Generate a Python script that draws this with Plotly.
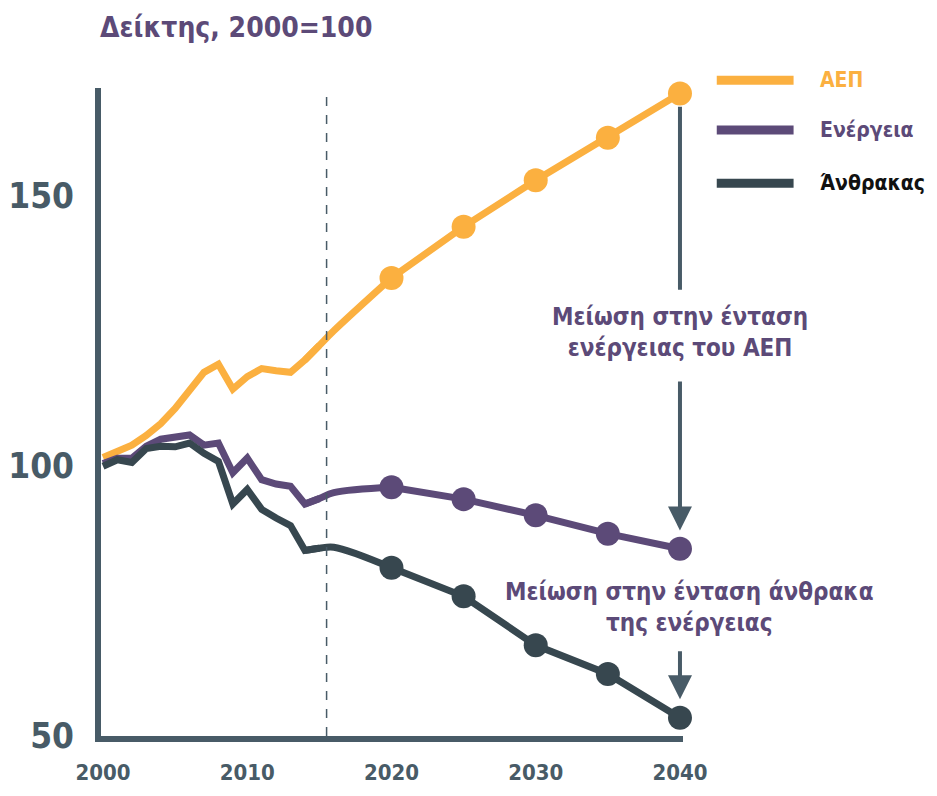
import plotly.graph_objects as go

# historical index values, 2000=100
hist_years = list(range(2000, 2017))
gdp_hist = [101.5, 102.6, 103.8, 105.6, 107.8, 110.6, 114.2, 117.3, 118.8, 114.2, 116.5,
            118.0, 117.6, 117.3, 119.6, 122.3, 125.0]
energy_hist = [100.4, 101.4, 101.4, 103.6, 104.9, 105.4, 105.7, 103.8, 104.2, 98.7, 101.4,
               97.4, 96.6, 96.2, 92.9, 93.9, 95.0]
coal_hist = [99.9, 101.1, 100.6, 103.2, 103.6, 103.5, 104.2, 102.3, 100.8, 92.9, 95.6,
             91.9, 90.3, 88.9, 84.3, 84.7, 84.9]

# projections with markers
proj_years = [2020, 2025, 2030, 2035, 2040]
gdp_proj = [134.8, 144.3, 152.9, 160.8, 169.0]
energy_proj = [96.0, 93.8, 90.8, 87.4, 84.6]
coal_proj = [81.1, 75.8, 66.7, 61.4, 53.3]

y_ticks = [50, 100, 150]
x_ticks = [2000, 2010, 2020, 2030, 2040]
base_year_line = 2015.5

series = [
    ("ΑΕΠ", gdp_hist, gdp_proj, "#fbb040", "#fbb040"),
    ("Ενέργεια", energy_hist, energy_proj, "#5c4a78", "#5c4a78"),
    ("Άνθρακας", coal_hist, coal_proj, "#37474f", "#111111"),
]

FONT = "Liberation Sans Narrow, DejaVu Sans Condensed, Roboto, sans-serif"
AXIS = "#485b67"
PURPLE = "#5c4a78"

fig = go.Figure()

for name, hist, proj, color, _ in series:
    # bridge from last historical points to first projection
    fig.add_trace(go.Scatter(
        x=hist_years[-3:] + proj_years[:1], y=hist[-3:] + proj[:1],
        mode="lines", line=dict(color=color, width=7, shape="spline"),
        hoverinfo="skip", showlegend=False,
    ))
    fig.add_trace(go.Scatter(
        x=hist_years[:-1], y=hist[:-1], mode="lines",
        line=dict(color=color, width=7), showlegend=False,
    ))
    fig.add_trace(go.Scatter(
        x=proj_years, y=proj, mode="lines+markers",
        line=dict(color=color, width=7),
        marker=dict(color=color, size=24),
        cliponaxis=False, showlegend=False, name=name,
    ))

fig.add_vline(x=base_year_line, line=dict(color=AXIS, width=1.5, dash="dash"))

# custom legend
leg_y = [1.012, 0.935, 0.853]
for (name, _, _, color, tcolor), yy in zip(series, leg_y):
    fig.add_shape(type="line", xref="paper", yref="paper",
                  x0=1.058, x1=1.19, y0=yy, y1=yy,
                  line=dict(color=color, width=9))
    fig.add_annotation(xref="paper", yref="paper", x=1.232, y=yy, text="<b>%s</b>" % name,
                       showarrow=False, xanchor="left", yanchor="middle",
                       font=dict(family=FONT, size=21, color=tcolor))

# arrows and notes
end = proj_years[-1]
note_font = dict(family=FONT, size=24, color=PURPLE)
fig.add_annotation(x=end, y=132.6, ax=end, ay=gdp_proj[-1] - 2.2, axref="x", ayref="y",
                   text="", showarrow=True, arrowhead=0, arrowwidth=4, arrowcolor=AXIS)
fig.add_annotation(x=end, y=124.6, text="<b>Μείωση στην ένταση<br>ενέργειας του ΑΕΠ</b>",
                   showarrow=False, font=note_font)
fig.add_annotation(x=end, y=energy_proj[-1] + 3.4, ax=end, ay=115.9, axref="x", ayref="y",
                   text="", showarrow=True, arrowhead=2, arrowsize=1.2, arrowwidth=4,
                   arrowcolor=AXIS)
fig.add_annotation(x=end, xshift=10, y=73.7,
                   text="<b>Μείωση στην ένταση άνθρακα<br>της ενέργειας</b>",
                   showarrow=False, font=note_font)
fig.add_annotation(x=end, y=coal_proj[-1] + 3.4, ax=end, ay=65.9, axref="x", ayref="y",
                   text="", showarrow=True, arrowhead=2, arrowsize=1.2, arrowwidth=4,
                   arrowcolor=AXIS)

# page body has an 8px margin, so the figure is drawn 16px smaller
fig.update_layout(
    width=921, height=780,
    margin=dict(l=93, r=246, t=80, b=52),
    paper_bgcolor="white", plot_bgcolor="white",
    showlegend=False,
    title=dict(text="<b>Δείκτης, 2000=100</b>", xref="container", yref="container",
               x=0.1, y=0.976, xanchor="left", yanchor="middle",
               font=dict(family=FONT, size=28, color=PURPLE)),
    font=dict(family=FONT),
)
fig.update_xaxes(range=[1999.86, 2040.21], tickvals=x_ticks, showgrid=False,
                 showline=True, linecolor=AXIS, linewidth=6, zeroline=False,
                 ticks="", ticklabelstandoff=12, automargin=False,
                 tickfont=dict(family=FONT, size=22, color=AXIS, weight="bold"))
fig.update_yaxes(range=[49.9, 170], tickvals=y_ticks, showgrid=False,
                 showline=True, linecolor=AXIS, linewidth=6, zeroline=False,
                 ticks="", ticklabelstandoff=14, automargin=False,
                 tickfont=dict(family=FONT, size=35, color=AXIS, weight="bold"))

fig.write_html("out.html")
